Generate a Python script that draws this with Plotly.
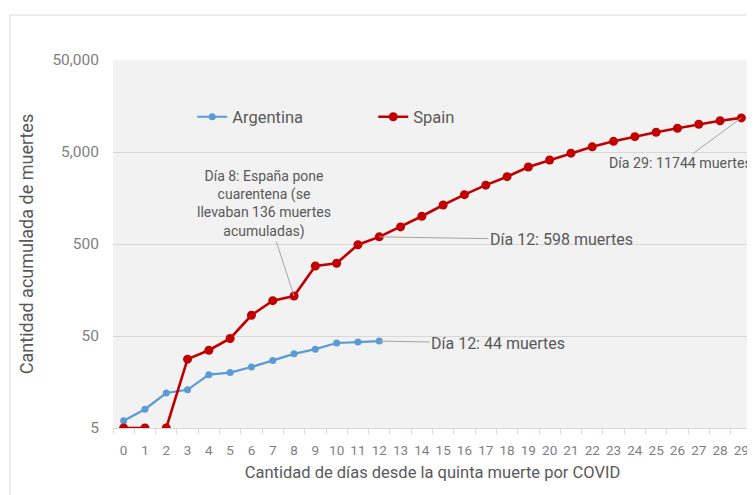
import numpy as np
import plotly.graph_objects as go

days_arg = list(range(13))
deaths_arg = [6, 8, 12, 13, 19, 20, 23, 27, 32, 36, 42, 43, 44]

days_esp = list(range(30))
deaths_esp = [5, 5, 5, 28, 35, 47, 84, 121, 136, 288, 309, 491, 598, 767, 1002,
              1326, 1720, 2182, 2696, 3434, 4089, 4858, 5690, 6528, 7340, 8189,
              9053, 10003, 10935, 11744]

y_ticks = [5, 50, 500, 5000, 50000]
y_labels = ["5", "50", "500", "5,000", "50,000"]

# Spain line has a break between day 1 and day 2 in the original
gap_after = 1
x_esp = days_esp[:gap_after + 1] + [None] + days_esp[gap_after + 1:]
y_esp = deaths_esp[:gap_after + 1] + [None] + deaths_esp[gap_after + 1:]

BLUE = "#5b9bd5"
RED = "#c00000"
TXT = "#595959"
TICK = "#7f7f7f"
FONT = "Roboto"

fig = go.Figure()
fig.add_trace(go.Scatter(x=days_arg, y=deaths_arg, name="Argentina",
                         mode="lines+markers",
                         line=dict(color=BLUE, width=2.2),
                         marker=dict(color=BLUE, size=7)))
fig.add_trace(go.Scatter(x=x_esp, y=y_esp, name="Spain",
                         mode="lines+markers", connectgaps=False,
                         line=dict(color=RED, width=2.6),
                         marker=dict(color=RED, size=9)))


def note(x, yval, ax, ay, text, size):
    fig.add_annotation(x=x, y=np.log10(yval), ax=ax, ay=ay, text=text,
                       xref="x", yref="y", showarrow=True, arrowhead=0,
                       arrowwidth=1, arrowcolor="#a6a6a6",
                       font=dict(family=FONT, color=TXT, size=size))


note(8, deaths_esp[8], -30, -92,
     "Día 8: España pone<br>cuarentena (se<br>llevaban 136 muertes<br>acumuladas)", 14)
note(12, deaths_esp[12], 182, 3, "Día 12: 598 muertes", 16)
note(12, deaths_arg[12], 119, 2, "Día 12: 44 muertes", 16)
note(29, deaths_esp[29], -61, 45, "Día 29: 11744 muertes", 14.2)

# outer frame of the original chart image
fig.add_shape(type="rect", xref="paper", yref="paper",
              x0=-0.1612, x1=1.0125, y0=-0.1957, y1=1.1223,
              line=dict(color="#d9d9d9", width=1), fillcolor="rgba(0,0,0,0)", layer="below")

fig.update_layout(
    width=747, height=487,
    margin=dict(l=105, r=3, t=52, b=67),
    paper_bgcolor="white",
    plot_bgcolor="#f2f2f2",
    font=dict(family=FONT, color=TXT),
    legend=dict(orientation="h", x=0.124, y=0.845, xanchor="left", yanchor="middle",
                bgcolor="rgba(0,0,0,0)", font=dict(size=16.5, color=TXT),
                entrywidth=136, entrywidthmode="pixels", itemwidth=30),
    xaxis=dict(range=[-0.5, 29.5], tickmode="linear", tick0=0, dtick=1,
               showgrid=False, zeroline=False, showline=True, linecolor="#d9d9d9",
               ticks="", tickfont=dict(size=13.5, color=TICK), ticklabelstandoff=10,
               minor=dict(tick0=-0.5, dtick=1, ticks="outside", ticklen=5,
                          tickcolor="#d9d9d9", showgrid=False),
               title=dict(text="Cantidad de días desde la quinta muerte por COVID",
                          font=dict(size=16.5, color=TXT), standoff=9)),
    yaxis=dict(type="log", range=[np.log10(5), np.log10(50000)],
               tickvals=y_ticks, ticktext=y_labels,
               showgrid=True, gridcolor="#d9d9d9", gridwidth=1,
               zeroline=False, showline=False, ticks="",
               tickfont=dict(size=15.5, color=TICK), ticklabelstandoff=13,
               title=dict(text="Cantidad acumulada de muertes",
                          font=dict(size=18, color=TXT), standoff=14)),
)

fig.write_html("out.html")
